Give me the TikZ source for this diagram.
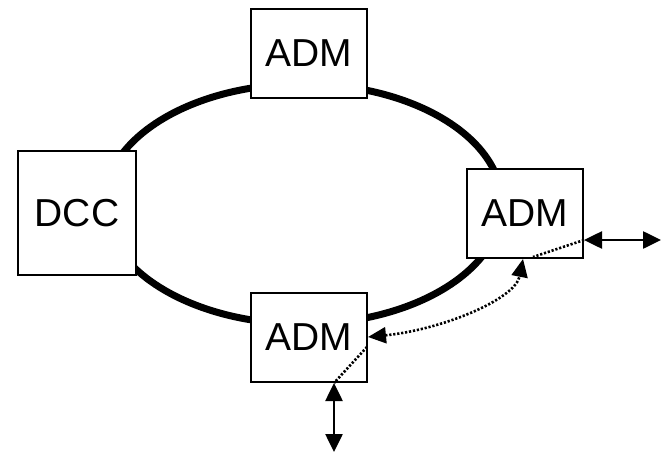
\documentclass[tikz,border=0pt]{standalone}
\usepackage{fontspec}
\setmainfont{Liberation Sans}
\usetikzlibrary{arrows.meta}
\begin{document}
\begin{tikzpicture}[x=1pt,y=-1pt,
  unit/.style={draw=black, line width=2pt, fill=white, inner sep=0pt,
    minimum width=116pt, minimum height=89pt,
    font=\fontsize{39}{40}\selectfont},
  ring/.style={line width=7pt},
  io/.style={line width=2.6pt, {Triangle[length=18pt,width=17pt]}-{Triangle[length=18pt,width=17pt]}},
  dots/.style={line width=2.6pt, dash pattern=on 2.2pt off 1.8pt},
  dotio/.style={dots, {Triangle[length=18pt,width=16pt]}-{Triangle[length=18pt,width=16pt]}}
]
\useasboundingbox (0,0) rectangle (661,452);
% ring
\draw[ring] (303,204) ellipse [x radius=199, y radius=120];
% nodes
\node[unit] (top) at (309,53.5) {ADM};
\node[unit, minimum width=118pt, minimum height=124pt] (dcc) at (77,213) {DCC};
\node[unit] (right) at (525,213.5) {ADM};
\node[unit] (bot) at (309,337.5) {ADM};
% coordinates
\coordinate (rIn) at (584,240);
\coordinate (rOut) at (661,240);
\coordinate (bIn) at (334,383);
\coordinate (bOut) at (334,452);
\coordinate (rDot) at (533,257);
\coordinate (rTip) at (523,259);
\coordinate (bTip) at (368,337);
\coordinate (bSide) at (367,347);
% external links
\draw[io] (rIn) -- (rOut);
\draw[io] (bIn) -- (bOut);
% internal dotted paths
\draw[dots] (rIn) -- (rDot);
\draw[dots] (bSide) -- (bIn);
\draw[dotio] (bTip) .. controls (440,330) and (515,300) .. (rTip);
\end{tikzpicture}
\end{document}
